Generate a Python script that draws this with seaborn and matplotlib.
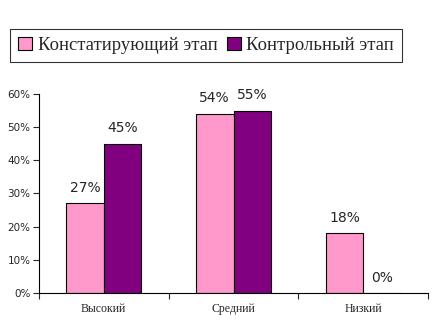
import matplotlib
matplotlib.use("Agg")
import matplotlib.pyplot as plt
import seaborn as sns
import pandas as pd
from matplotlib.ticker import FixedLocator, PercentFormatter
from matplotlib.patches import Patch

categories = ["Высокий", "Средний", "Низкий"]
series_names = ["Констатирующий этап", "Контрольный этап"]
stage1 = [27, 54, 18]
stage2 = [45, 55, 0]
colors = ["#FF99CC", "#800080"]

df = pd.DataFrame({
    "cat": categories * 2,
    "series": [series_names[0]] * 3 + [series_names[1]] * 3,
    "val": stage1 + stage2,
})

sns.set_style("white")
plt.rcParams['font.family'] = ['DejaVu Sans']

fig = plt.figure(figsize=(4.41, 3.25), dpi=100)
ax = fig.add_axes([0.088, 0.0985, 0.883, 0.6125])

sns.barplot(data=df, x="cat", y="val", hue="series", palette=colors,
            width=0.58, gap=0, edgecolor="black", linewidth=0.8, ax=ax,
            legend=False, saturation=1)

for c in ax.containers:
    ax.bar_label(c, labels=[f"{int(v)}%" for v in c.datavalues], padding=6,
                 fontsize=10, family="DejaVu Sans")

ax.set_ylim(0, 60)
ax.set_xlim(-0.5, 2.5)
ax.set_yticks(range(0, 61, 10))
ax.yaxis.set_major_formatter(PercentFormatter(decimals=0))
ax.tick_params(axis="y", direction="out", length=4, width=0.8, labelsize=7.5, left=True, pad=2)
ax.set_xticks(range(3))
ax.set_xticklabels(categories, family="Liberation Serif", fontsize=8.5)
ax.tick_params(axis="x", length=0, pad=7)
ax.xaxis.set_minor_locator(FixedLocator([-0.5, 0.5, 1.5, 2.5]))
ax.tick_params(axis="x", which="minor", direction="out", length=4, width=0.8, bottom=True)
ax.set_xlabel("")
ax.set_ylabel("")
for s in ["top", "right"]:
    ax.spines[s].set_visible(False)
for s in ["left", "bottom"]:
    ax.spines[s].set_color("black")
    ax.spines[s].set_linewidth(0.8)

handles = [Patch(facecolor=colors[i], edgecolor="black", linewidth=0.8) for i in range(2)]
leg = fig.legend(handles, series_names, loc="upper left", bbox_to_anchor=(0.023, 0.911),
                 ncol=2, frameon=True, fancybox=False, edgecolor="black",
                 prop={"family": "Liberation Serif", "size": 13.4},
                 handlelength=0.75, handleheight=0.75, handletextpad=0.3,
                 columnspacing=0.5, borderpad=0.42, borderaxespad=0)
leg.get_frame().set_linewidth(0.8)

fig.savefig("out.png", dpi=100)
